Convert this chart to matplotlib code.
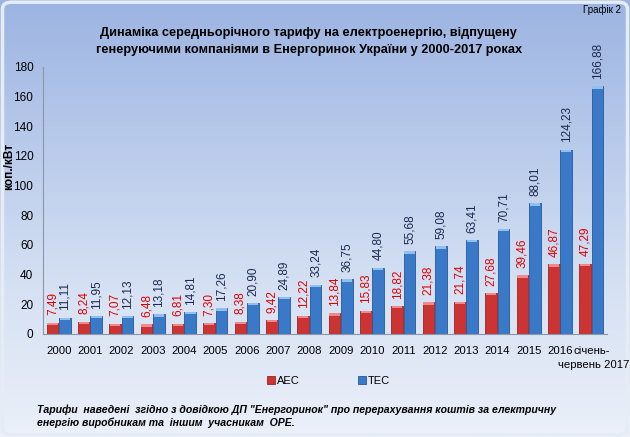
import numpy as np
import matplotlib.pyplot as plt
from matplotlib.colors import LinearSegmentedColormap
from matplotlib.patches import FancyBboxPatch

#%% Data
years = ['2000', '2001', '2002', '2003', '2004', '2005', '2006', '2007', '2008',
         '2009', '2010', '2011', '2012', '2013', '2014', '2015', '2016',
         'січень-\nчервень 2017']
aes = [7.49, 8.24, 7.07, 6.48, 6.81, 7.30, 8.38, 9.42, 12.22,
       13.84, 15.83, 18.82, 21.38, 21.74, 27.68, 39.46, 46.87, 47.29]
tes = [11.11, 11.95, 12.13, 13.18, 14.81, 17.26, 20.90, 24.89, 33.24,
       36.75, 44.80, 55.68, 59.08, 63.41, 70.71, 88.01, 124.23, 166.88]

plt.rcParams['font.family'] = ['Liberation Sans', 'DejaVu Sans']

#%% Figure with gradient background
fig = plt.figure(figsize=(6.3, 4.37), dpi=100)
bg = fig.add_axes([0, 0, 1, 1], zorder=-10)
cmap = LinearSegmentedColormap.from_list('bg', ['#9cb4e2', '#b9cbeb', '#d6e1f3', '#ebf0f9'])
bg.imshow(np.linspace(0, 1, 256).reshape(-1, 1), aspect='auto', cmap=cmap,
          extent=[0, 1, 0, 1])
bg.add_patch(FancyBboxPatch((0.004, 0.005), 0.992, 0.99, boxstyle='round,pad=0,rounding_size=0.015',
                            fill=False, ec='#e6ecf6', lw=2.5, transform=bg.transAxes))
bg.set_xlim(0, 1)
bg.set_ylim(0, 1)
bg.axis('off')

ax = fig.add_axes([0.0683, 0.2357, 0.8952, 0.611])
ax.patch.set_alpha(0)

x = np.arange(len(years))
w = 0.37
off = 0.2
red, red_top = '#cc3333', '#f08a8a'
blue, blue_top = '#3a78c8', '#8fc0f0'

ax.bar(x - off, aes, w, color=red, edgecolor='#9a2424', lw=0.6, label='АЕС', zorder=2)
ax.bar(x + off, tes, w, color=blue, edgecolor='#27589a', lw=0.6, label='ТЕС', zorder=2)
# light caps on top of bars
ax.bar(x - off, [1.5] * len(x), w * 0.9, bottom=np.array(aes) - 1.5, color=red_top, lw=0, zorder=3)
ax.bar(x + off, [1.5] * len(x), w * 0.9, bottom=np.array(tes) - 1.5, color=blue_top, lw=0, zorder=3)

for xi, a, t in zip(x, aes, tes):
    ax.text(xi - off, a + 5, f'{a:.2f}'.replace('.', ','), rotation=90, ha='center', va='bottom',
            fontsize=8.5, color='#e00000')
    ax.text(xi + off, t + 5, f'{t:.2f}'.replace('.', ','), rotation=90, ha='center', va='bottom',
            fontsize=8.5, color='#1b2a4e')

ax.set_xlim(-0.5, len(years) - 0.5)
ax.set_ylim(0, 180)
ax.set_yticks(range(0, 181, 20))
ax.set_xticks(x)
# last category label is wrapped onto two lines: first line as tick label, second as text below
first_line, second_line = years[-1].split('\n')
ax.set_xticklabels(years[:-1] + [first_line], fontsize=8.2)
ax.annotate(second_line, xy=(x[-1], 0), xycoords=ax.get_xaxis_transform(),
            xytext=(2, -19), textcoords='offset points', ha='center', va='top', fontsize=8.2)
ax.tick_params(axis='y', labelsize=8.5)
ax.tick_params(axis='both', length=0, colors='black')
ax.tick_params(axis='x', pad=9)
ax.tick_params(axis='y', pad=7)
for s in ['top', 'right']:
    ax.spines[s].set_visible(False)
for s in ['left', 'bottom']:
    ax.spines[s].set_color('#8c96a8')

fig.text(0.014, 0.62, 'коп./кВт', rotation=90, ha='center', va='center', fontsize=8.5,
         fontweight='bold')

fig.text(0.49, 0.905, 'Динаміка середньорічного тарифу на електроенергію, відпущену\n'
         'генеруючими компаніями в Енергоринок України у 2000-2017 роках',
         ha='center', va='center', fontsize=9.2, fontweight='bold', linespacing=1.6)
fig.text(0.955, 0.978, 'Графік 2', ha='center', va='center', fontsize=7)

fig.legend(loc='center', bbox_to_anchor=(0.522, 0.128), ncol=2, frameon=False, fontsize=8,
           handlelength=0.7, handleheight=0.7, handletextpad=0.2, columnspacing=5.2)

fig.text(0.058, 0.048, 'Тарифи  наведені  згідно з довідкою ДП "Енергоринок" про перерахування коштів за електричну\n'
         'енергію виробникам та  іншим  учасникам  ОРЕ.',
         ha='left', va='center', fontsize=7.6, fontweight='bold', fontstyle='italic', linespacing=1.3,
         family=['Liberation Sans Narrow', 'Liberation Sans', 'DejaVu Sans'])

plt.savefig('out.png', dpi=100)
